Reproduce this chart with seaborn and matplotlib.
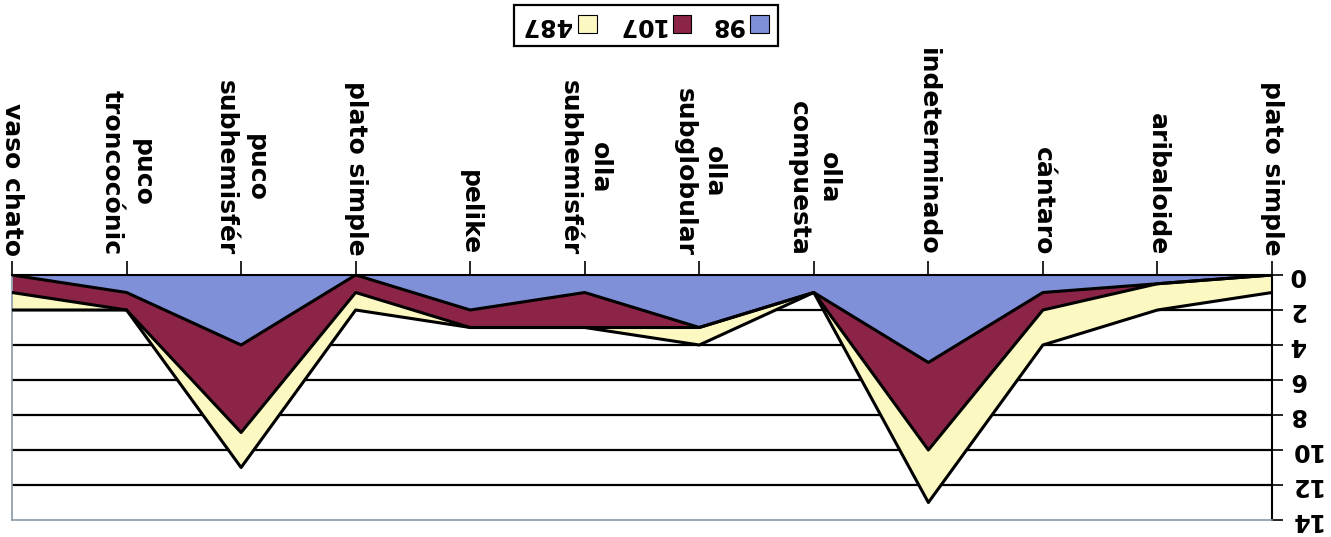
import numpy as np
import pandas as pd
import seaborn as sns
import matplotlib.pyplot as plt
from matplotlib.patches import Patch

# categories as they appear left to right (the chart is shown upside down)
categories = ['vaso chato', 'puco\ntroncocónic', 'puco\nsubhemisfér', 'plato simple',
              'pelike', 'olla\nsubhemisfér', 'olla\nsubglobular', 'olla\ncompuesta',
              'indeterminado', 'cántaro', 'aribaloide', 'plato simple']
series_names = ['98', '107', '487']
s98 = [0, 1, 4, 0, 2, 1, 3, 1, 5, 1, 0.5, 0]
s107 = [1, 1, 5, 1, 1, 2, 0, 0, 5, 1, 0, 0]
s487 = [1, 0, 2, 1, 0, 0, 1, 0, 3, 2, 1.5, 1]
y_ticks = [0, 2, 4, 6, 8, 10, 12, 14]

colors = ['#7f8fd8', '#8c2448', '#fcf8c2']

sns.set_style('white')
plt.rcParams['font.family'] = ['DejaVu Sans']
plt.rcParams['text.color'] = 'black'
plt.rcParams['xtick.color'] = 'black'
plt.rcParams['ytick.color'] = 'black'

x = np.arange(len(categories))
cum = np.cumsum(np.array([s98, s107, s487], dtype=float), axis=0)
lower = np.vstack([np.zeros(len(x)), cum[:-1]])

rows = []
for name, vals in zip(series_names, cum):
    for xi, v in zip(x, vals):
        rows.append({'serie': name, 'x': xi, 'y': v})
df = pd.DataFrame(rows)

fig = plt.figure(figsize=(13.31, 5.37), dpi=100)
ax = fig.add_axes([12 / 1331, 17 / 537, 1260 / 1331, 245 / 537])

for i in range(3):
    ax.fill_between(x, lower[i], cum[i], color=colors[i], linewidth=0, zorder=2)
sns.lineplot(data=df, x='x', y='y', units='serie', estimator=None, color='black',
             linewidth=2.2, ax=ax, zorder=3, legend=False)

ax.set_xlim(0, len(categories) - 1)
ax.set_ylim(14, 0)
ax.set_yticks(y_ticks)
ax.set_yticklabels([str(t) for t in y_ticks])
ax.set_xticks(x)
ax.set_xticklabels(categories)
ax.xaxis.tick_top()
ax.yaxis.tick_right()
ax.set_xlabel('')
ax.set_ylabel('')

for t in y_ticks[1:-1]:
    ax.axhline(t, color='black', linewidth=1.6, zorder=1)

ax.tick_params(axis='x', direction='out', length=10, width=1.2, color='black', pad=4)
ax.tick_params(axis='y', direction='out', length=8, width=1.2, color='black', pad=4)
plt.setp(ax.get_xticklabels(), rotation=270, ha='right', va='center',
         rotation_mode='anchor', fontsize=18, fontweight='bold', multialignment='center',
         linespacing=1.3)
plt.setp(ax.get_yticklabels(), rotation=180, va='center', fontsize=17, fontweight='bold')

for side in ['top', 'right']:
    ax.spines[side].set_color('black')
    ax.spines[side].set_linewidth(1.5)
for side in ['left', 'bottom']:
    ax.spines[side].set_color('#8a9aa8')
    ax.spines[side].set_linewidth(1.2)

handles = [Patch(facecolor=colors[i], edgecolor='black', linewidth=0.8) for i in [2, 1, 0]]
labels = [series_names[i] for i in [2, 1, 0]]
leg = fig.legend(handles, labels, loc='center', bbox_to_anchor=(0.485, 0.953), ncol=3,
                 markerfirst=False, fancybox=False, edgecolor='black', framealpha=1,
                 handlelength=0.8, handleheight=0.8, handletextpad=0.3, columnspacing=0.8,
                 prop={'size': 17, 'weight': 'bold'}, borderpad=0.35)
leg.get_frame().set_linewidth(1.6)
for t in leg.get_texts():
    t.set_rotation(180)

fig.savefig('out.png', dpi=100)
